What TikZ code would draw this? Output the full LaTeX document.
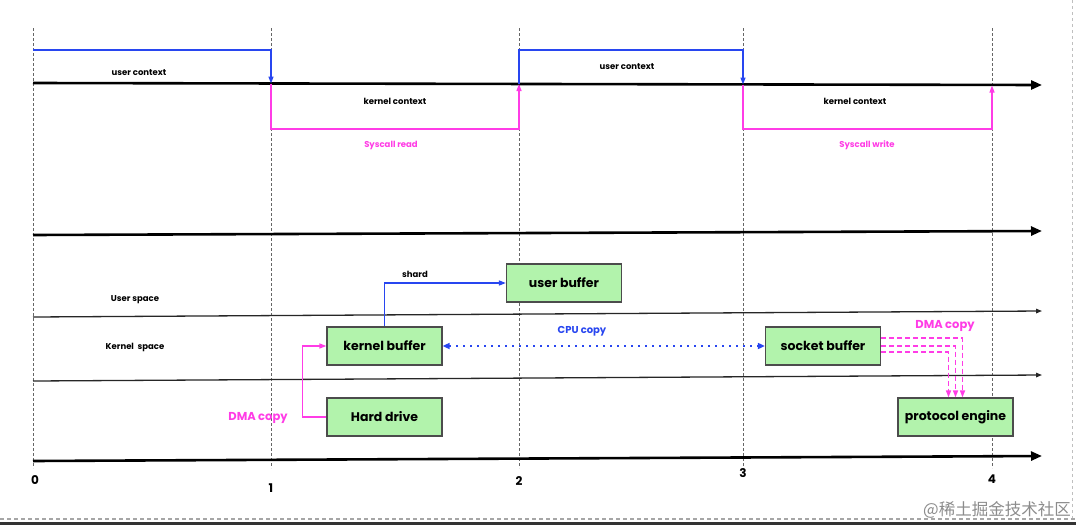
\documentclass[tikz,border=0pt]{standalone}
\usepackage{fontspec}
\setmainfont{Poppins}
\newfontfamily\cjkwm{Noto Sans CJK SC}
\usetikzlibrary{arrows.meta}
\definecolor{boxgreen}{RGB}{178,243,172}
\definecolor{ublue}{RGB}{40,70,240}
\definecolor{umag}{RGB}{255,60,230}
\begin{document}
\begin{tikzpicture}[x=1pt,y=-1pt,
  tick/.style={draw=black!60, line width=0.9pt, dash pattern=on 2.5pt off 2.5pt},
  bigaxis/.style={draw=black, line width=2.6pt, -{Triangle[length=11pt,width=9pt]}},
  thinaxis/.style={draw=black!85, line width=1.3pt, -{Triangle[length=6pt,width=4.5pt]}},
  bluel/.style={draw=ublue, line width=1.3pt},
  magl/.style={draw=umag, line width=1.3pt},
  tipb/.style={-{Triangle[length=7pt,width=5pt]}},
  box/.style={draw=black!70, line width=1.2pt, fill=boxgreen, minimum width=115pt, minimum height=38pt, inner sep=0pt, font=\fontsize{12.5}{14}\selectfont\bfseries},
  small/.style={font=\fontsize{8.5}{10}\selectfont\bfseries, inner sep=0pt},
  mid/.style={font=\fontsize{10}{12}\selectfont\bfseries, inner sep=0pt},
  dmalab/.style={font=\fontsize{11.5}{13}\selectfont\bfseries, text=umag, inner sep=0pt},
  num/.style={font=\fontsize{12}{14}\selectfont\bfseries, inner sep=0pt}]
\useasboundingbox (0,0) rectangle (1076,525);
\fill[white] (0,0) rectangle (1076,525);

% time ticks
\foreach \x/\n in {33/0,271/1,519/2,743/3,992/4}{
  \coordinate (top\n) at (\x,28);
  \coordinate (bot\n) at (\x,468);
  \draw[tick] (top\n) -- (bot\n);
}

% axes
\coordinate (a1s) at (33,83); \coordinate (a1e) at (1042,85);
\coordinate (a2s) at (33,235); \coordinate (a2e) at (1042,231);
\coordinate (l1s) at (33,317); \coordinate (l1e) at (1042,311);
\coordinate (l2s) at (33,381); \coordinate (l2e) at (1042,375);
\coordinate (a3s) at (33,461); \coordinate (a3e) at (1042,456);
\draw[bigaxis] (a1s) -- (a1e);
\draw[bigaxis] (a2s) -- (a2e);
\draw[thinaxis] (l1s) -- (l1e);
\draw[thinaxis] (l2s) -- (l2e);
\draw[bigaxis] (a3s) -- (a3e);

% context switches
\coordinate (b0) at (33,50); \coordinate (b1) at (271,50); \coordinate (b1a) at (271,83.5);
\coordinate (b2a) at (519,84); \coordinate (b2) at (519,50); \coordinate (b3) at (743,50); \coordinate (b3a) at (743,84.5);
\coordinate (m1) at (271,129); \coordinate (m2) at (519,129); \coordinate (m3) at (743,129); \coordinate (m4) at (992,129);
\coordinate (m4a) at (992,85.5);
\draw[bluel,tipb] (b0) -- (b1) -- (b1a);
\draw[bluel,tipb] (b2a) -- (b2) -- (b3) -- (b3a);
\draw[magl,tipb] (b1a) -- (m1) -- (m2) -- (b2a);
\draw[magl,tipb] (b3a) -- (m3) -- (m4) -- (m4a);

\node[small] (uc1) at (139,73) {user context};
\node[small] (uc2) at (627,67) {user context};
\node[small] (kc1) at (395,101) {kernel context};
\node[small] (kc2) at (855,101) {kernel context};
\node[small, text=umag] (sr) at (391,145) {Syscall read};
\node[small, text=umag] (sw) at (867,145) {Syscall write};

% spaces
\node[small] (us) at (135,300) {User space};
\node[small] (ks) at (135,347) {Kernel\ \ space};

% boxes
\node[box] (ub) at (564,283) {user buffer};
\node[box] (kb) at (384.5,346) {kernel buffer};
\node[box] (hd) at (384.5,417) {Hard drive};
\node[box] (sb) at (823,346) {socket buffer};
\node[box] (pe) at (955.5,417) {protocol engine};

% connectors
\draw[bluel,tipb] (kb.north) |- (ub.west);
\node[small] (shard) at (415,274) {shard};
\draw[magl,tipb] (hd.west) -- ++(-24,0) |- (kb.west);
\node[dmalab] (dma1) at (258,418) {DMA copy};
\draw[draw=ublue, line width=1.6pt, dash pattern=on 2pt off 5pt, {Triangle[length=7pt,width=6pt]}-{Triangle[length=7pt,width=6pt]}] (kb.east) -- (sb.west);
\node[mid, text=ublue] (cpu) at (582,331) {CPU copy};
\foreach \dy/\dx in {8/7,0/0,-6/-7}{
  \draw[magl, line width=1.5pt, dash pattern=on 5pt off 3pt, tipb] ([yshift=\dy pt]sb.east) -| ([xshift=\dx pt]pe.north);
}
\node[dmalab] (dma2) at (945,326) {DMA copy};

% time labels
\node[num] (n0) at (35,480) {0};
\node[num] (n1) at (271,488) {1};
\node[num] (n2) at (519,481) {2};
\node[num] (n3) at (743,473) {3};
\node[num] (n4) at (992,479) {4};

% frame marks
\draw[black!25, line width=1pt, dash pattern=on 3pt off 3pt] (1072,0) -- (1072,519);
\draw[black!35, line width=1.2pt, dash pattern=on 4pt off 3pt] (0,519) -- (1076,519);
\fill[black!80] (0,521.5) rectangle (1076,525);
\node[text=black!45, font=\cjkwm\fontsize{16.5}{18}\selectfont, anchor=east, inner sep=0pt] (wm) at (1071,510) {@稀土掘金技术社区};
\end{tikzpicture}
\end{document}
